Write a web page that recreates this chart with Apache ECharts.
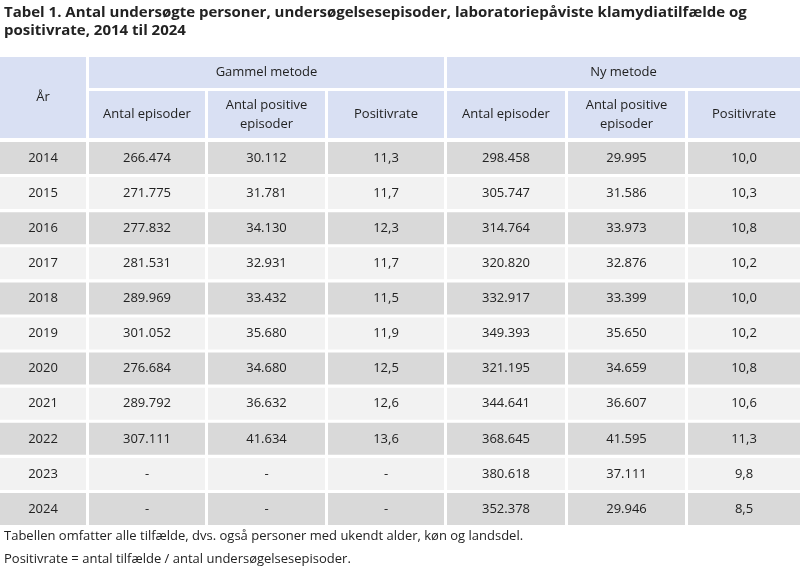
<!DOCTYPE html>
<html><head><meta charset="utf-8">
<script src="https://cdn.jsdelivr.net/npm/echarts@6/dist/echarts.min.js"></script>
<style>html,body{margin:0;padding:0;background:#fff}#c{width:800px;height:574px}</style>
</head><body><div id="c"></div>
<script>
const years = ['2014','2015','2016','2017','2018','2019','2020','2021','2022','2023','2024'];
const oldEpisodes = ['266.474','271.775','277.832','281.531','289.969','301.052','276.684','289.792','307.111','-','-'];
const oldPositive = ['30.112','31.781','34.130','32.931','33.432','35.680','34.680','36.632','41.634','-','-'];
const oldRate = ['11,3','11,7','12,3','11,7','11,5','11,9','12,5','12,6','13,6','-','-'];
const newEpisodes = ['298.458','305.747','314.764','320.820','332.917','349.393','321.195','344.641','368.645','380.618','352.378'];
const newPositive = ['29.995','31.586','33.973','32.876','33.399','35.650','34.659','36.607','41.595','37.111','29.946'];
const newRate = ['10,0','10,3','10,8','10,2','10,0','10,2','10,8','10,6','11,3','9,8','8,5'];
const groupHeaders = ['Gammel metode','Ny metode'];
const colHeaders = ['Antal episoder','Antal positive\nepisoder','Positivrate'];
const title = 'Tabel 1. Antal undersøgte personer, undersøgelsesepisoder, laboratoriepåviste klamydiatilfælde og\npositivrate, 2014 til 2024';
const notes = ['Tabellen omfatter alle tilfælde, dvs. også personer med ukendt alder, køn og landsdel.',
               'Positivrate = antal tilfælde / antal undersøgelsesepisoder.'];

const font = 'Open Sans';
const colX = [0, 89, 208, 328, 447, 568, 688, 800];
const gap = 3;
const els = [];
function cell(x0, x1, y0, y1, fill, text) {
  els.push({type:'rect', shape:{x:x0, y:y0, width:x1-x0, height:y1-y0}, style:{fill:fill}});
  els.push({type:'text', x:(x0+x1)/2, y:(y0+y1)/2, style:{text:text, fill:'#222', font:'13px "'+font+'"', align:'center', verticalAlign:'middle', lineHeight:19}});
}
const hdr = '#d9e0f3';
cell(colX[0], colX[1]-gap, 57, 138, hdr, 'År');
cell(colX[1], colX[4]-gap, 57, 88, hdr, groupHeaders[0]);
cell(colX[4], colX[7], 57, 88, hdr, groupHeaders[1]);
for (let i = 0; i < 6; i++) {
  const x1 = i === 5 ? colX[7] : colX[i+2]-gap;
  cell(colX[i+1], x1, 91, 138, hdr, colHeaders[i % 3]);
}
const cols = [years, oldEpisodes, oldPositive, oldRate, newEpisodes, newPositive, newRate];
years.forEach((y, r) => {
  const y0 = 142 + r*35.1, y1 = y0 + 32;
  const fill = r % 2 === 0 ? '#d9d9d9' : '#f2f2f2';
  cols.forEach((c, i) => {
    const x1 = i === 6 ? colX[7] : colX[i+1]-gap;
    cell(colX[i], x1, y0, y1, fill, c[r]);
  });
});
els.push({type:'text', x:4, y:4, style:{text:title, fill:'#222', font:'bold 15px "'+font+'"', lineHeight:18}});
notes.forEach((n, i) => els.push({type:'text', x:4, y:530+i*23, style:{text:n, fill:'#222', font:'13px "'+font+'"'}}));

const chart = echarts.init(document.getElementById('c'));
chart.setOption({graphic:{elements:els}});
</script></body></html>
